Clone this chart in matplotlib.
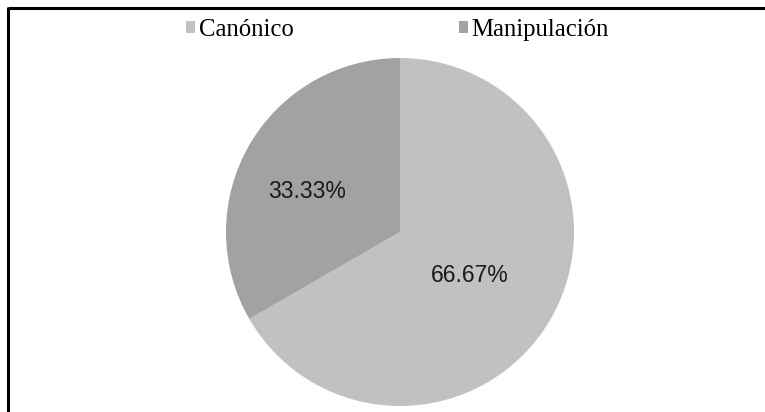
import matplotlib.pyplot as plt
from matplotlib.patches import Patch
from matplotlib.lines import Line2D

labels = ['Canónico', 'Manipulación']
values = [66.67, 33.33]
colors = ['#c1c1c1', '#a2a2a2']

W, H = 765, 412
fig = plt.figure(figsize=(W / 100, H / 100), dpi=100)

# pie axes: centre ~(400, 232) px, radius ~174 px
r = 174
cx, cy = 400, 232
ax = fig.add_axes([(cx - r) / W, (H - cy - r) / H, 2 * r / W, 2 * r / H])
wedges, texts, autotexts = ax.pie(values, colors=colors, startangle=90, counterclock=False,
                                  autopct='%.2f%%', pctdistance=0.55, radius=1,
                                  wedgeprops=dict(linewidth=0),
                                  textprops=dict(fontsize=16.5, family='Liberation Sans', color='#1a1a1a'))
ax.set_xlim(-1, 1)
ax.set_ylim(-1, 1)
ax.set_aspect('equal')
ax.axis('off')

# label spots as in the original (pie radius units)
for t, pos in zip(autotexts, [(0.40, -0.25), (-0.535, 0.23)]):
    t.set_position(pos)

handles = [Patch(facecolor=c, edgecolor='none') for c in colors]
fig.legend(handles, labels, loc='center', bbox_to_anchor=(397.5 / W, 1 - 30 / H), ncol=2,
           frameon=False, handlelength=0.36, handleheight=0.36, handletextpad=0.15,
           columnspacing=6.7, prop=dict(family='Liberation Serif', size=17.8))

# frame lines on top and left
fig.add_artist(Line2D([7.5 / W, 1], [1 - 8 / H, 1 - 8 / H], transform=fig.transFigure,
                      color='black', linewidth=2.2, solid_capstyle='butt'))
fig.add_artist(Line2D([8 / W, 8 / W], [0, 1 - 7 / H], transform=fig.transFigure,
                      color='black', linewidth=2.2, solid_capstyle='butt'))

fig.savefig('out.png', dpi=100)
